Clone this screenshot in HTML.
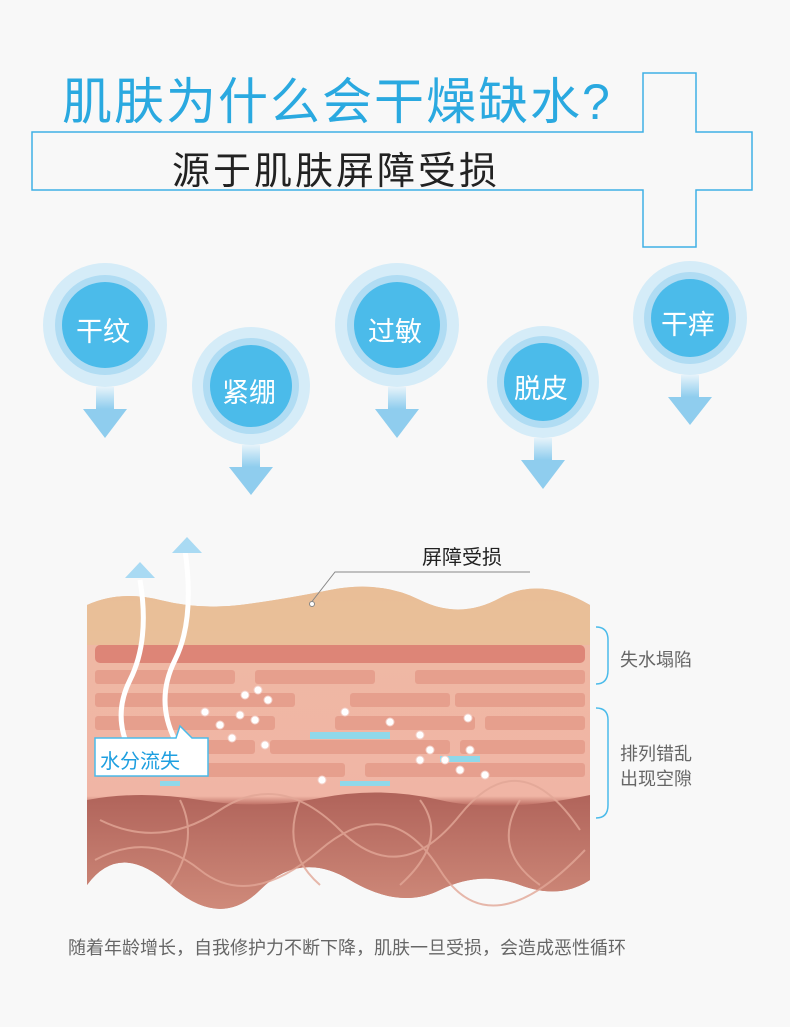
<!DOCTYPE html>
<html><head><meta charset="utf-8"><style>
body{margin:0;width:790px;height:1027px;background:#f8f8f8;position:relative;overflow:hidden;font-family:"Liberation Sans","Noto Sans CJK SC",sans-serif}
.t{position:absolute;white-space:nowrap}
</style></head><body>
<svg width="790" height="1027" style="position:absolute;left:0;top:0">
<defs>
<linearGradient id="ar" x1="0" y1="0" x2="0" y2="1"><stop offset="0" stop-color="#e6f3fa"/><stop offset="1" stop-color="#8fcdee"/></linearGradient>
<linearGradient id="sk" x1="0" y1="0" x2="0" y2="1">
<stop offset="0" stop-color="#e8b98f"/><stop offset="0.16" stop-color="#e9c2a0"/><stop offset="0.18" stop-color="#efb8a4"/><stop offset="0.65" stop-color="#f0b5a5"/><stop offset="0.68" stop-color="#b9685e"/><stop offset="1" stop-color="#c27c6c"/></linearGradient>
<linearGradient id="dm" x1="0" y1="0" x2="0" y2="1"><stop offset="0" stop-color="#b0635a"/><stop offset="1" stop-color="#cf8a7a"/></linearGradient>
</defs>
<path d="M643 73H696V132H752V190H696V247H643V190H32V132H643Z" fill="none" stroke="#3fb0e6" stroke-width="1.5"/>
<g>
<circle cx="105" cy="325" r="62" fill="#d5ecf8"/><circle cx="105" cy="325" r="50" fill="#b0dcf3"/><circle cx="105" cy="325" r="43" fill="#4bbbea"/>
<rect x="96" y="387" width="18" height="22" fill="url(#ar)"/><path d="M83 409H127L105 438Z" fill="#8fcdee"/>
<circle cx="251" cy="386" r="59" fill="#d5ecf8"/><circle cx="251" cy="386" r="48" fill="#b0dcf3"/><circle cx="251" cy="386" r="41" fill="#4bbbea"/>
<rect x="242" y="445" width="18" height="22" fill="url(#ar)"/><path d="M229 467H273L251 495Z" fill="#8fcdee"/>
<circle cx="397" cy="325" r="62" fill="#d5ecf8"/><circle cx="397" cy="325" r="50" fill="#b0dcf3"/><circle cx="397" cy="325" r="43" fill="#4bbbea"/>
<rect x="388" y="387" width="18" height="22" fill="url(#ar)"/><path d="M375 409H419L397 438Z" fill="#8fcdee"/>
<circle cx="543" cy="382" r="56" fill="#d5ecf8"/><circle cx="543" cy="382" r="46" fill="#b0dcf3"/><circle cx="543" cy="382" r="39" fill="#4bbbea"/>
<rect x="534" y="438" width="18" height="22" fill="url(#ar)"/><path d="M521 460H565L543 489Z" fill="#8fcdee"/>
<circle cx="690" cy="318" r="57" fill="#d5ecf8"/><circle cx="690" cy="318" r="46" fill="#b0dcf3"/><circle cx="690" cy="318" r="39" fill="#4bbbea"/>
<rect x="681" y="375" width="18" height="22" fill="url(#ar)"/><path d="M668 397H712L690 425Z" fill="#8fcdee"/>
</g>
<path d="M87 605Q120 590 160 600T240 605T330 590T420 600T500 598T590 605V880Q560 900 520 885T440 890T350 880T260 890T170 885T87 885Z" fill="url(#sk)"/>
<path d="M87 605Q120 590 160 600T240 605T330 590T420 600T500 598T590 605V645H87Z" fill="#e9bf98" opacity=".9"/>
<g fill="#e49a88" opacity=".8">
<rect x="95" y="645" width="490" height="18" rx="5" fill="#d9796c"/>
<rect x="95" y="670" width="140" height="14" rx="3"/><rect x="255" y="670" width="120" height="14" rx="3"/><rect x="415" y="670" width="170" height="14" rx="3"/>
<rect x="95" y="693" width="200" height="14" rx="3"/><rect x="350" y="693" width="100" height="14" rx="3"/><rect x="455" y="693" width="130" height="14" rx="3"/>
<rect x="95" y="716" width="180" height="14" rx="3"/><rect x="335" y="716" width="140" height="14" rx="3"/><rect x="485" y="716" width="100" height="14" rx="3"/>
<rect x="95" y="740" width="160" height="14" rx="3"/><rect x="270" y="740" width="180" height="14" rx="3"/><rect x="460" y="740" width="125" height="14" rx="3"/>
<rect x="95" y="763" width="140" height="14" rx="3"/><rect x="225" y="763" width="120" height="14" rx="3"/><rect x="365" y="763" width="220" height="14" rx="3"/>
</g>
<g fill="#8fd8ea"><rect x="310" y="732" width="80" height="7"/><rect x="440" y="756" width="40" height="6"/><rect x="340" y="781" width="50" height="5"/><rect x="160" y="781" width="20" height="5"/></g>
<path d="M87 800Q140 790 200 800T320 798T440 800T590 795V880Q560 900 520 885T440 890T350 880T260 890T170 885T87 885Z" fill="url(#dm)"/>
<g fill="none" stroke="#e2a797" stroke-width="2" opacity=".8"><path d="M100 820Q160 850 220 810T340 830T460 815T580 830"/><path d="M95 860Q150 830 200 870T320 850T440 870T585 850"/><path d="M180 800Q200 840 170 885M300 800Q280 850 320 885M420 800Q450 840 400 885M520 800Q490 850 540 885"/></g>
<path d="M135 760Q110 720 130 680T140 580" stroke="#fff" stroke-width="5" fill="none"/>
<path d="M175 740Q155 700 175 660T185 550" stroke="#fff" stroke-width="5" fill="none"/>
<path d="M125 578L140 562L155 578Z" fill="#a9daf3"/><path d="M172 553L187 537L202 553Z" fill="#a9daf3"/>
<g fill="#fff" stroke="#f4d0c8"><circle cx="245" cy="695" r="4"/><circle cx="258" cy="690" r="4"/><circle cx="268" cy="700" r="4"/><circle cx="240" cy="715" r="4"/><circle cx="255" cy="720" r="4"/><circle cx="220" cy="725" r="4"/><circle cx="205" cy="712" r="4"/><circle cx="232" cy="738" r="4"/><circle cx="265" cy="745" r="4"/><circle cx="345" cy="712" r="4"/><circle cx="390" cy="722" r="4"/><circle cx="420" cy="735" r="4"/><circle cx="430" cy="750" r="4"/><circle cx="445" cy="760" r="4"/><circle cx="460" cy="770" r="4"/><circle cx="470" cy="750" r="4"/><circle cx="485" cy="775" r="4"/><circle cx="468" cy="718" r="4"/><circle cx="322" cy="780" r="4"/><circle cx="420" cy="760" r="4"/></g>
<path d="M310 604L335 572H530" stroke="#888" fill="none"/><circle cx="312" cy="604" r="2.5" fill="#fff" stroke="#888"/>
<path d="M596 627Q608 627 608 640V670Q608 684 596 684" stroke="#4bbbea" fill="none" stroke-width="1.5"/>
<path d="M596 708Q608 708 608 720V805Q608 818 596 818" stroke="#4bbbea" fill="none" stroke-width="1.5"/>
<path d="M95 738H176L180 726L192 738H208V776H95Z" fill="#fff" stroke="#4bbbea" stroke-width="1.5"/>
</svg>
<div class="t" style="left:62px;top:62px;font-size:50px;color:#2aa9e0;letter-spacing:2px">肌肤为什么会干燥缺水?</div>
<div class="t" style="left:172px;top:140px;font-size:38px;color:#222;letter-spacing:3px">源于肌肤屏障受损</div>
<div class="t" style="left:76px;top:310px;font-size:27px;color:#fff">干纹</div>
<div class="t" style="left:222px;top:371px;font-size:27px;color:#fff">紧绷</div>
<div class="t" style="left:368px;top:310px;font-size:27px;color:#fff">过敏</div>
<div class="t" style="left:514px;top:367px;font-size:27px;color:#fff">脱皮</div>
<div class="t" style="left:661px;top:303px;font-size:27px;color:#fff">干痒</div>
<div class="t" style="left:422px;top:541px;font-size:20px;color:#222">屏障受损</div>
<div class="t" style="left:620px;top:646px;font-size:18px;color:#666">失水塌陷</div>
<div class="t" style="left:620px;top:742px;font-size:18px;color:#666;line-height:25px">排列错乱<br>出现空隙</div>
<div class="t" style="left:100px;top:745px;font-size:20px;color:#1e9fe0">水分流失</div>
<div class="t" style="left:68px;top:934px;font-size:18px;color:#666">随着年龄增长，自我修护力不断下降，肌肤一旦受损，会造成恶性循环</div>
</body></html>
